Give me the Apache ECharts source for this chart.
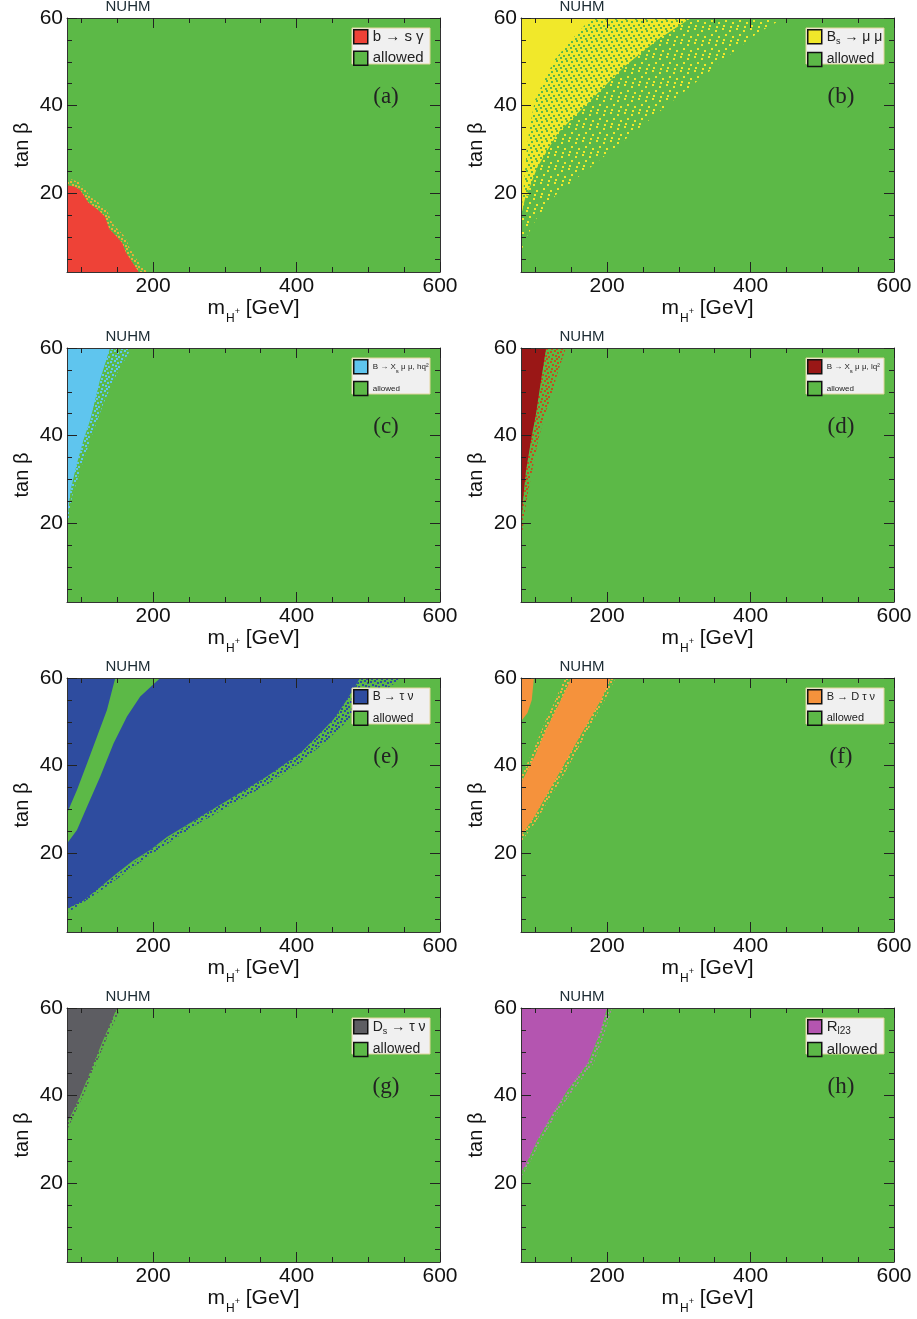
<!DOCTYPE html>
<html><head><meta charset="utf-8">
<script src="https://cdn.jsdelivr.net/npm/echarts@6/dist/echarts.min.js"></script>
<style>html,body{margin:0;padding:0;background:#fff}#c{width:917px;height:1319px}</style>
</head><body><div id="c"></div>
<script>
// ---------- axes ----------
const xRange = [80, 600];
const yRange = [2, 60];
const xMajorTicks = [200, 400, 600];
const xMinorTicks = [100, 150, 250, 300, 350, 450, 500, 550];
const yMajorTicks = [20, 40, 60];
const yMinorTicks = [5, 10, 15, 25, 30, 35, 45, 50, 55];

// ---------- excluded regions, points are [m_H+ (GeV), tan beta] ----------
// (a) b -> s gamma
const bsgFringe = [[80,2],[80,23.2],[86,23.2],[98.6,22.4],[112.5,19.2],[126.4,17.6],[135.7,16.1],[143,13.2],[152,11.6],[161.3,10],[167,7.6],[176,5.2],[186,2.9],[192,2]];
const bsgCore = [[80,2],[80,21.8],[90,21.5],[98,20.8],[110,17.8],[123,16.2],[133,14.6],[139,11.8],[148.5,10.2],[157,8.6],[162,6.5],[171,4.2],[180,2]];
// (b) Bs -> mu mu
const bsmmSparse = [[80,6.2],[85,9.2],[103,14.6],[131,20],[177.5,26],[224,32.1],[270,38.2],[317,44.4],[363,50.5],[410,56.6],[447,60],[80,60]];
const bsmmDense = [[80,14.6],[85,18.4],[103,26],[131,33.7],[177.5,41.3],[224,48.9],[270,55],[317,60],[80,60]];
const bsmmCore = [[80,12],[81,15],[84,22],[88,29.9],[92,35],[99.5,41.3],[110,45],[127,50.5],[150,55],[178,60],[80,60]];
// (c) B -> Xs mu mu, high q2
const bxsHighFringe = [[80,18.5],[87,26],[98.6,32.1],[112.5,39],[131,47.4],[150,54.3],[170,60],[80,60]];
const bxsHighCore = [[80,20],[85,27.6],[94,33.7],[103,39],[112.5,43.6],[126,52.7],[140,60],[80,60]];
// (d) B -> Xs mu mu, low q2
const bxsLowFringe = [[80,16.5],[82,18],[87,24.5],[94,30.6],[103,38.2],[112.5,44.4],[121.8,48.9],[131,54.3],[142.7,60],[80,60]];
const bxsLowCore = [[80,18.4],[82.3,24.5],[87,32.1],[94,39],[101,45.1],[108,52.7],[115,60],[80,60]];
// (e) B -> tau nu
const btnFringe = [[80,6.3],[126,11.3],[196,19.6],[265.7,27],[312,31.3],[358.6,35.6],[405,40.6],[440,45.4],[470,50],[500,54],[525,57.5],[548,60],[488.6,60],[470,55],[451.4,50.5],[428.2,46.6],[405,42.8],[358.6,37.5],[312.2,32.9],[265.7,28.3],[196,20.7],[126.4,12.3],[80,7.3]];
const btnUpper = [[80,29.1],[93.9,34.4],[107.9,40.5],[121.8,46.6],[135.7,52.7],[147.3,60],[80,60]];
const btnLower = [[80,7.3],[103.2,9.2],[126.4,12.3],[149.6,15.4],[172.9,18.4],[196,20.7],[219.3,23.7],[242.5,26],[265.7,28.3],[312.2,32.9],[358.6,37.5],[405,42.8],[428.2,46.6],[451.4,50.5],[470,55],[488.6,60],[210,60],[182.1,55.8],[163.6,51.2],[145,45.1],[126.4,37.5],[107.9,30.6],[93.9,25.3],[80,22.2]];
// (f) B -> D tau nu
const bdtnCorner = [[80,50.5],[82,50.5],[89,52],[95,55],[98,60],[80,60]];
const bdtnFringe = [[80,22.5],[100,27],[120,32.5],[140,38],[160,44],[178,49.5],[197,55],[212,60],[140,60],[128,55],[115,50.5],[97,43.5],[80,37.5]];
const bdtnBand = [[80,24],[98.6,28.3],[117.1,33.7],[135.7,39],[154.3,44.4],[172.9,49.7],[191.4,55],[205.4,60],[149.6,60],[145,58.1],[131.1,53.5],[117.1,48.9],[98.6,42],[80,36]];
// (g) Ds -> tau nu
const dstnFringe = [[80,32],[94,37],[104,40.5],[114,44.5],[124,48.5],[134,52.5],[145,56.5],[155,60],[80,60]];
const dstnCore = [[80,33.7],[90,37],[100,40.5],[110,44.5],[120,48.5],[130,52.5],[140,56.3],[149.6,60],[80,60]];
// (h) R_l23
const rl23Fringe = [[80,21.3],[90,24],[108,29.9],[128,35.4],[153,41.3],[181,47.2],[197,54.5],[207,60],[80,60]];
const rl23Core = [[80,22.6],[86,24],[103.2,29.9],[121.8,35.2],[145,41.3],[172.9,47.4],[190,54.3],[200,60],[80,60]];

const allowedRegion = [[xRange[0],yRange[0]],[xRange[1],yRange[0]],[xRange[1],yRange[1]],[xRange[0],yRange[1]]];

// ---------- styling ----------
const GREEN = '#5cb947';
const FONT = '"Liberation Sans", Arial, Helvetica, sans-serif';
const SERIF = '"Liberation Serif", "DejaVu Serif", serif';
const TILES = {
  sparse: {size: 14, dots: [[1,2],[8,0],[11,6],[4,8],[9,11],[2,12]]},
  medium: {size: 10, dots: [[0,1],[4,0],[7,2],[2,4],[5,5],[8,6],[1,8],[6,8]]},
  dense:  {size: 10, dots: [[1,1],[6,0],[3,5],[8,4],[0,7],[5,8]]}
};

const panels = [
  {name:'b → s γ', rich:'b → s γ', color:'#ee4237', dot:'#e8b038', letter:'(a)', fs:15,
   layers:[[bsgFringe,'medium'],[bsgCore,'solid']]},
  {name:'Bs → μ μ', rich:'B{sub|s} → μ μ', color:'#f1e82a', letter:'(b)', fs:14,
   layers:[[bsmmSparse,'sparse'],[bsmmDense,'dense'],[bsmmCore,'solid']]},
  {name:'B → Xs μ μ, hq²', rich:'B → X{sub|s} μ μ, hq²', color:'#5fc5ee', letter:'(c)', fs:8,
   layers:[[bxsHighFringe,'medium'],[bxsHighCore,'solid']]},
  {name:'B → Xs μ μ, lq²', rich:'B → X{sub|s} μ μ, lq²', color:'#9a1716', dot:'#c0501e', letter:'(d)', fs:8,
   layers:[[bxsLowFringe,'medium'],[bxsLowCore,'solid']]},
  {name:'B → τ ν', rich:'B → τ ν', color:'#2e4c9f', letter:'(e)', fs:12,
   layers:[[btnFringe,'medium'],[btnUpper,'solid'],[btnLower,'solid']]},
  {name:'B → D τ ν', rich:'B → D τ ν', color:'#f5923c', dot:'#f0b040', letter:'(f)', fs:11,
   layers:[[bdtnFringe,'medium'],[bdtnBand,'solid'],[bdtnCorner,'solid']]},
  {name:'Ds → τ ν', rich:'D{sub|s} → τ ν', color:'#5d5d62', letter:'(g)', fs:14,
   layers:[[dstnFringe,'medium'],[dstnCore,'solid']]},
  {name:'Rl23', rich:'R{sub|l23}', color:'#b455b0', dot:'#a88aa0', letter:'(h)', fs:15,
   layers:[[rl23Fringe,'medium'],[rl23Core,'solid']]}
];

const colLeft = [67, 521], colWidth = 373;
const rowTop = [18, 348, 678, 1008], rowH = 254;

function makePattern(kind, color) {
  const spec = TILES[kind];
  const cv = document.createElement('canvas');
  cv.width = cv.height = spec.size;
  const ctx = cv.getContext('2d');
  const bg = kind === 'dense' ? color : GREEN;
  const fg = kind === 'dense' ? GREEN : color;
  ctx.fillStyle = bg; ctx.fillRect(0, 0, spec.size, spec.size);
  ctx.fillStyle = fg; spec.dots.forEach(d => ctx.fillRect(d[0], d[1], 2, 2));
  return {image: cv, repeat: 'repeat'};
}

function polyRenderer(points, fill) {
  return function (params, api) {
    if (params.dataIndex !== 0) return null;
    return {type: 'polygon', shape: {points: points.map(p => api.coord(p))}, style: {fill: fill}};
  };
}

const grid = [], xAxis = [], yAxis = [], series = [], legend = [], graphic = [];
const tickLine = {color: '#222', width: 1};
const frameLine = {color: '#333', width: 1};
const AZ = 4;

panels.forEach((p, i) => {
  const r = Math.floor(i / 2), c = i % 2;
  grid.push({left: colLeft[c], top: rowTop[r], width: colWidth, height: rowH, containLabel: false});
  const base = {gridIndex: i, type: 'value', min: xRange[0], max: xRange[1], splitLine: {show: false}, z: AZ};
  xAxis.push(Object.assign({}, base, {
    position: 'bottom',
    axisLine: {show: true, onZero: false, lineStyle: frameLine},
    axisTick: {show: true, inside: true, length: 10, customValues: xMajorTicks, lineStyle: tickLine},
    axisLabel: {show: true, customValues: xMajorTicks, margin: 4, fontSize: 21, color: '#111', fontFamily: FONT},
    name: 'm{sub|H}{sup|+} [GeV]', nameLocation: 'middle', nameGap: 24,
    nameTextStyle: {fontSize: 21, color: '#111', fontFamily: FONT,
      rich: {sub: {fontSize: 12, verticalAlign: 'bottom', fontFamily: FONT, color: '#111', padding: [0, 0, -6, 1]},
             sup: {fontSize: 9, verticalAlign: 'bottom', fontFamily: FONT, color: '#111', padding: [0, 0, 3, 0]}}}
  }));
  xAxis.push(Object.assign({}, base, {
    position: 'bottom', axisLine: {show: false, onZero: false},
    axisTick: {show: true, inside: true, length: 5, customValues: xMinorTicks, lineStyle: tickLine},
    axisLabel: {show: false}
  }));
  xAxis.push(Object.assign({}, base, {
    position: 'top', axisLine: {show: true, onZero: false, lineStyle: frameLine},
    axisTick: {show: true, inside: true, length: 10, customValues: xMajorTicks, lineStyle: tickLine},
    axisLabel: {show: false}
  }));
  xAxis.push(Object.assign({}, base, {
    position: 'top', axisLine: {show: false, onZero: false},
    axisTick: {show: true, inside: true, length: 5, customValues: xMinorTicks, lineStyle: tickLine},
    axisLabel: {show: false}
  }));
  const ybase = {gridIndex: i, type: 'value', min: yRange[0], max: yRange[1], splitLine: {show: false}, z: AZ};
  yAxis.push(Object.assign({}, ybase, {
    position: 'left',
    axisLine: {show: true, onZero: false, lineStyle: frameLine},
    axisTick: {show: true, inside: true, length: 10, customValues: yMajorTicks, lineStyle: tickLine},
    axisLabel: {show: true, customValues: yMajorTicks, margin: 4, fontSize: 21, color: '#111', fontFamily: FONT},
    name: 'tan β', nameLocation: 'middle', nameGap: 35, nameRotate: 90,
    nameTextStyle: {fontSize: 20, color: '#111', fontFamily: FONT}
  }));
  yAxis.push(Object.assign({}, ybase, {
    position: 'left', axisLine: {show: false, onZero: false},
    axisTick: {show: true, inside: true, length: 5, customValues: yMinorTicks, lineStyle: tickLine},
    axisLabel: {show: false}
  }));
  yAxis.push(Object.assign({}, ybase, {
    position: 'right', axisLine: {show: true, onZero: false, lineStyle: frameLine},
    axisTick: {show: true, inside: true, length: 10, customValues: yMajorTicks, lineStyle: tickLine},
    axisLabel: {show: false}
  }));
  yAxis.push(Object.assign({}, ybase, {
    position: 'right', axisLine: {show: false, onZero: false},
    axisTick: {show: true, inside: true, length: 5, customValues: yMinorTicks, lineStyle: tickLine},
    axisLabel: {show: false}
  }));

  series.push({
    type: 'custom', name: 'allowed', coordinateSystem: 'cartesian2d',
    xAxisIndex: 4 * i, yAxisIndex: 4 * i, clip: true, silent: true, z: 1,
    itemStyle: {color: GREEN}, data: allowedRegion,
    renderItem: polyRenderer(allowedRegion, GREEN)
  });
  p.layers.forEach((layer) => {
    const pts = layer[0], kind = layer[1];
    const fill = kind === 'solid' ? p.color : makePattern(kind, kind === 'dense' ? p.color : (p.dot || p.color));
    series.push({
      type: 'custom', name: p.name, coordinateSystem: 'cartesian2d',
      xAxisIndex: 4 * i, yAxisIndex: 4 * i, clip: true, silent: true, z: 2,
      itemStyle: {color: p.color}, data: pts,
      renderItem: polyRenderer(pts, fill)
    });
  });

  const subFs = Math.max(6, Math.round(p.fs * 0.65));
  legend.push({
    left: colLeft[c] + 286, top: rowTop[r] + 11, orient: 'vertical',
    itemWidth: 14, itemHeight: 14, itemGap: 6, icon: 'rect', padding: 0, z: 8,
    selectedMode: false,
    data: [p.name, 'allowed'],
    formatter: n => n === 'allowed' ? 'allowed' : p.rich,
    itemStyle: {borderColor: '#111', borderWidth: 1.5},
    textStyle: {fontSize: p.fs, color: '#222', fontFamily: FONT, lineHeight: 14,
      rich: {sub: {fontSize: subFs, fontFamily: FONT, color: '#222', verticalAlign: 'bottom',
                   padding: [0, 0, -Math.max(1, Math.round(p.fs * 0.15)), 0]}}}
  });

  graphic.push({type: 'rect', z: 7, silent: true,
    shape: {x: colLeft[c] + 285, y: rowTop[r] + 10, width: 78, height: 36},
    style: {fill: '#f0f0f0', stroke: '#e3d69c', lineWidth: 1}});
  graphic.push({type: 'text', z: 7, silent: true, x: colLeft[c] + 61, y: rowTop[r] - 11,
    style: {text: 'NUHM', fontSize: 15, fontFamily: FONT, fill: '#1b2b33', align: 'center', verticalAlign: 'middle'}});
  graphic.push({type: 'text', z: 7, silent: true, x: colLeft[c] + 319 + c, y: rowTop[r] + 79,
    style: {text: p.letter, fontSize: 23, fontFamily: SERIF, fill: '#222', align: 'center', verticalAlign: 'middle'}});
});

const chart = echarts.init(document.getElementById('c'), null, {renderer: 'canvas'});
chart.setOption({
  animation: false,
  backgroundColor: '#ffffff',
  grid, xAxis, yAxis, series, legend, graphic
});
</script>
</body></html>
